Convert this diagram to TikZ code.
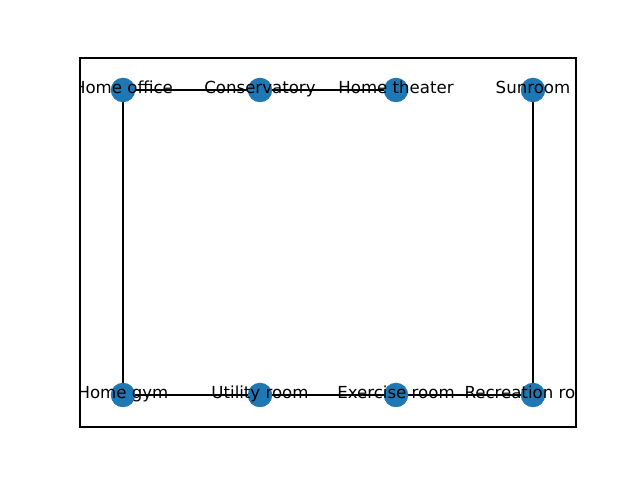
\documentclass[tikz,border=0pt]{standalone}
\usepackage{fontspec}
\setmainfont{DejaVu Sans}
\usetikzlibrary{backgrounds}
\definecolor{nodeblue}{HTML}{1F77B4}

\begin{document}
\begin{tikzpicture}[
    x=0.0254cm, y=-0.0254cm,
    room/.style={circle, fill=nodeblue, minimum size=24.5*0.0254cm, inner sep=0pt},
    roomlabel/.style={font=\fontsize{12}{14}\selectfont, inner sep=0pt,
        text height=0.76em, text depth=0.24em},
    edge/.style={line width=0.9pt, black}
]
    \useasboundingbox (0,0) rectangle (640,480);

    \begin{scope}
    \clip (80,58) rectangle (576,427);
    % Rooms, top row
    \node[room, label={[roomlabel]center:Home office}] (office) at (123,90) {};
    \node[room, label={[roomlabel]center:Conservatory}] (conserv) at (260,90) {};
    \node[room, label={[roomlabel]center:Home theater}] (theater) at (396,90) {};
    \node[room, label={[roomlabel]center:Sunroom}] (sunroom) at (533,90) {};

    % Rooms, bottom row
    \node[room, label={[roomlabel]center:Home gym}] (gym) at (123,395) {};
    \node[room, label={[roomlabel]center:Utility room}] (utility) at (260,395) {};
    \node[room, label={[roomlabel]center:Exercise room}] (exercise) at (396,395) {};
    \node[room, label={[roomlabel]center:Recreation room}] (recreation) at (533,395) {};

    % Connections
    \begin{scope}[on background layer]
    \draw[edge] (office.center) -- (conserv.center);
    \draw[edge] (conserv.center) -- (theater.center);
    \draw[edge] (office.center) -- (gym.center);
    \draw[edge] (gym.center) -- (utility.center);
    \draw[edge] (utility.center) -- (exercise.center);
    \draw[edge] (exercise.center) -- (recreation.center);
    \draw[edge] (recreation.center) -- (sunroom.center);
    \end{scope}
    \end{scope}

    % Frame
    \draw[line width=0.8pt] (80,58) rectangle (576,427);
\end{tikzpicture}
\end{document}
